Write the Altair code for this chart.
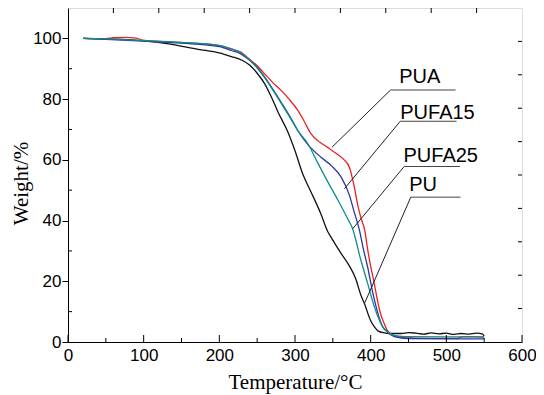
import altair as alt
import pandas as pd

# ---- TGA curves (Temperature °C, Weight %) ----
pu_t = [20, 50, 100, 133, 172, 200, 216, 230, 240, 250, 260, 270, 278, 290, 300, 310, 321, 334, 343, 347,
        360, 372, 380, 387, 392, 400, 405, 410, 418, 425, 440, 450, 460, 470, 480, 490, 500, 510, 520, 530, 540, 548, 550]
pu_w = [100, 99.8, 99.2, 98.2, 96.4, 95.2, 94.0, 92.8, 91.2, 88.5, 85, 80, 75.5, 69.5, 63, 55.5, 49.5, 42.3, 36.5, 34.8,
        29.5, 25, 21, 15.5, 12.5, 7, 5, 3.6, 3.0, 2.8, 2.8, 3.1, 2.9, 2.6, 3.0, 2.7, 2.9, 2.5, 2.8, 2.6, 2.9, 2.6, 2.0]

pua_t = [20, 50, 60, 75, 90, 100, 150, 200, 216, 229, 238, 250, 260, 270, 282, 291, 304, 313, 321, 333, 343, 356, 365,
         372, 378, 383, 387, 392, 396, 400, 405, 410, 413, 418, 422, 430, 440, 460, 500, 515, 520, 530, 540, 550]
pua_w = [100, 99.9, 100.2, 100.3, 100.1, 99.3, 98.6, 97.6, 96.5, 95.4, 93.5, 91, 88.3, 85.6, 82.8, 80.3, 76.2, 72.3, 68.6, 65.8, 64.1, 61.8, 60,
         57.5, 51.5, 45, 41, 37, 30.5, 25, 19, 12.5, 9.4, 6, 3.8, 2.2, 1.5, 1.3, 1.2, 1.2, 1.7, 1.8, 1.7, 1.6]

pufa15_t = [20, 50, 100, 150, 200, 216, 229, 238, 250, 260, 270, 282, 295, 304, 317, 334, 348, 361, 372, 378, 385,
            390, 396, 403, 411, 416, 420, 428, 436, 450, 500, 550]
pufa15_w = [100, 99.7, 99.1, 98.4, 97.3, 96.0, 94.8, 93.2, 90.5, 87.2, 83.5, 78.8, 73.5, 69.5, 65.0, 60.9, 58.1, 54.3, 48.3, 43, 37,
            31, 24.7, 16, 8.2, 5, 3.8, 2.2, 1.5, 1.1, 1.0, 1.0]

pufa25_t = [20, 50, 100, 150, 200, 216, 229, 238, 250, 260, 270, 282, 295, 304, 317, 330, 343, 357, 370, 376, 387,
            396, 405, 411, 416, 423, 431, 445, 500, 550]
pufa25_w = [100, 99.8, 99.3, 98.7, 97.7, 96.5, 95.2, 93.3, 90.3, 87, 83.3, 78.5, 73.3, 69.5, 65.3, 59, 52.9, 46.6, 40.4, 37.4, 27,
            19.3, 11.5, 7.5, 4.9, 3.2, 2.2, 1.8, 1.7, 1.7]

series_names = ["PU", "PUA", "PUFA15", "PUFA25"]
series_colors = ["#111111", "#e8231e", "#2b35a5", "#0e8c8c"]

# ---- annotation labels (data coordinates) ----
lab_text = ["PUA", "PUFA15", "PUFA25", "PU"]
lab_x = [437.7, 439.1, 443.4, 450.9]
lab_y = [85.4, 73.3, 59.4, 49.6]
lead_x = [348.7, 365.4, 376.3, 391.7]
lead_y = [64.1, 50.5, 37.3, 12.6]
knee_x = [426.3, 439.1, 444.3, 453.0]
knee_y = [83.0, 72.7, 57.8, 47.7]
line_end_x = [512.2, 513.5, 518.0, 518.8]

# ---- axis ticks ----
x_major = [0, 100, 200, 300, 400, 500, 600]
x_minor = [50, 150, 250, 350, 450, 550]
x_top = [60, 120, 180, 240, 300, 360, 420, 480, 540]
y_major = [0, 20, 40, 60, 80, 100]
y_minor = [10, 30, 50, 70, 90]
y_right = [11, 22, 33, 44, 55, 66, 77, 88, 99]

W, H = 454, 334

rows = []
for name, ts, ws in [("PU", pu_t, pu_w), ("PUA", pua_t, pua_w),
                     ("PUFA15", pufa15_t, pufa15_w), ("PUFA25", pufa25_t, pufa25_w)]:
    for t, w in zip(ts, ws):
        rows.append({"T": t, "W": w, "S": name})
df = pd.DataFrame(rows)

xs = alt.Scale(domain=[0, 600], nice=False)
ys = alt.Scale(domain=[0, 110], nice=False)

lines = alt.Chart(df).mark_line(strokeWidth=1.3, interpolate="monotone").encode(
    x=alt.X("T:Q", scale=xs, axis=alt.Axis(
        values=x_major, ticks=False, tickSize=0, grid=False, domainColor="black", labelFlush=False,
        labelFont="Liberation Sans", labelFontSize=17, labelColor="black", labelPadding=5,
        title="Temperature/°C", titleFont="Liberation Serif", titleFontSize=21,
        titleFontWeight="normal", titleColor="black", titlePadding=8)),
    y=alt.Y("W:Q", scale=ys, axis=alt.Axis(
        values=y_major, tickSize=6, tickColor="black", grid=False, domainColor="black", labelFlush=False,
        labelFont="Liberation Sans", labelFontSize=17, labelColor="black", labelPadding=1,
        title="Weight/%", titleFont="Liberation Serif", titleFontSize=21, titleY=175,
        titleFontWeight="normal", titleColor="black", titlePadding=1)),
    color=alt.Color("S:N", scale=alt.Scale(domain=series_names, range=series_colors), legend=None),
    detail="S:N",
)

ann = pd.DataFrame({"text": lab_text, "lx": lab_x, "ly": lab_y, "ax": lead_x, "ay": lead_y,
                    "kx": knee_x, "ky": knee_y, "ex": line_end_x})

leaders = alt.Chart(ann).mark_rule(color="#222222", strokeWidth=1).encode(
    x=alt.X("ax:Q", scale=xs), y=alt.Y("ay:Q", scale=ys), x2="kx:Q", y2="ky:Q")
unders = alt.Chart(ann).mark_rule(color="#444444", strokeWidth=1).encode(
    x=alt.X("kx:Q", scale=xs), y=alt.Y("ky:Q", scale=ys), x2="ex:Q")
texts = alt.Chart(ann).mark_text(align="left", baseline="alphabetic", font="Liberation Sans",
                                  fontSize=20, color="black").encode(
    x=alt.X("lx:Q", scale=xs), y=alt.Y("ly:Q", scale=ys), text="text:N")

def vrule(vals, y0, y1):
    return alt.Chart(pd.DataFrame({"v": vals})).mark_rule(color="black", strokeWidth=1).encode(
        x=alt.X("v:Q", scale=xs), y=alt.value(y0), y2=alt.value(y1))

def hrule(vals, x0, x1):
    return alt.Chart(pd.DataFrame({"v": vals})).mark_rule(color="black", strokeWidth=1).encode(
        y=alt.Y("v:Q", scale=ys), x=alt.value(x0), x2=alt.value(x1))

ticks = [
    vrule(x_major, H, H - 7),
    vrule(x_minor, H, H - 4),
    vrule(x_top, 0, 5),
    hrule(y_minor, 0, 4),
    hrule(y_right, W, W - 4),
]

chart = alt.layer(lines, leaders, unders, texts, *ticks).properties(
    width=W, height=H,
    padding={"left": 60, "top": 0, "right": 14, "bottom": 52},
    autosize=alt.AutoSizeParams(type="none"),
).configure_view(stroke="black", strokeWidth=1).configure(background="white")

chart.save("out.html", embed_options={"renderer": "svg", "actions": False})
